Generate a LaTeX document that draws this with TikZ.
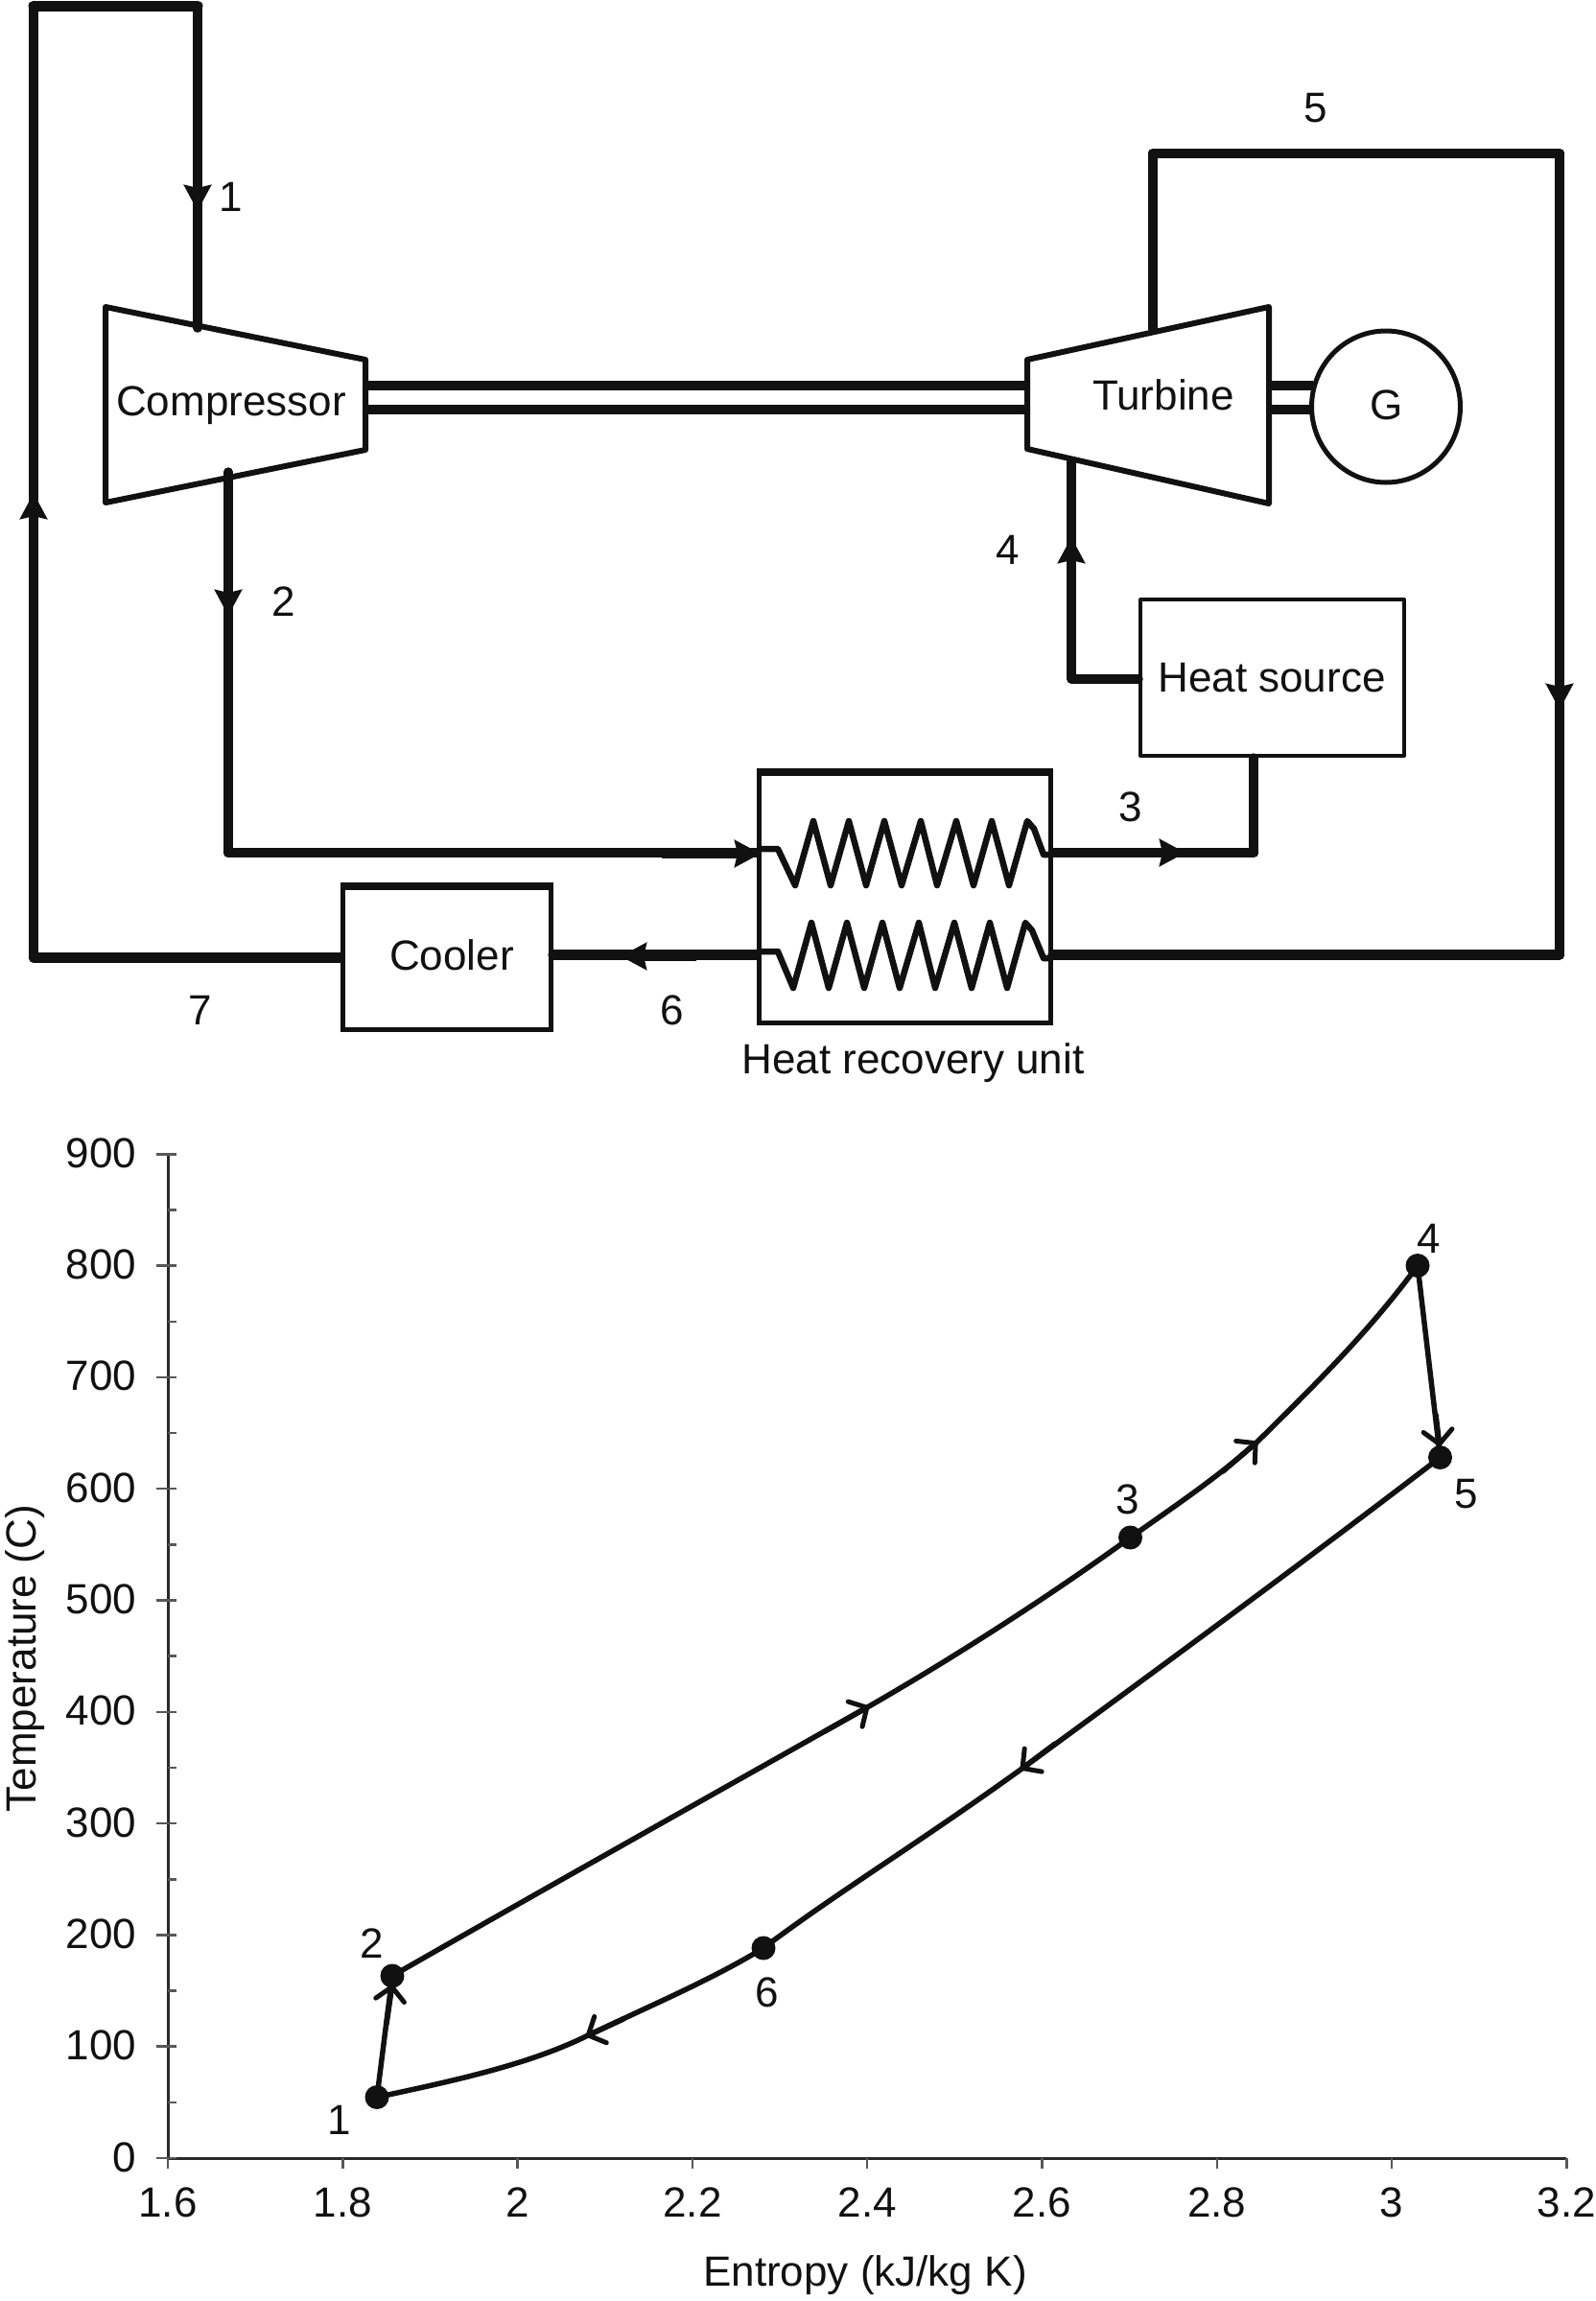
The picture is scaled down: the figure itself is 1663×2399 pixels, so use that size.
\documentclass[tikz,border=0pt]{standalone}
\usepackage{fontspec}
\setmainfont{Liberation Sans}
\usetikzlibrary{arrows.meta,shapes.geometric}
\definecolor{ink}{HTML}{111111}
\tikzset{
  txt/.style={inner sep=0pt,outer sep=0pt,anchor=base,text=ink,font=\fontsize{44}{50}\selectfont},
  pipe/.style={draw=ink,line width=9.5pt,line join=round,line cap=round},
  pipeh/.style={draw=ink,line width=10.5pt,line join=round,line cap=round},
  mach/.style={draw=ink,line width=6pt,line join=round,fill=white},
  shaft/.style={draw=ink,line width=9.5pt},
  coil/.style={draw=ink,line width=6.5pt,line join=round},
  thinbox/.style={draw=ink,line width=4pt,line join=round},
  flow/.style={draw=ink,line width=9.5pt,-{Stealth[length=27pt,width=28pt,inset=3pt]}},
  axis/.style={draw=ink!90,line width=3pt},
  tick/.style={draw=ink!70,line width=2.5pt},
  curve/.style={draw=ink,line width=5.5pt,line join=round,line cap=round},
  barb/.style={draw=ink,line width=5.5pt,line cap=round,-{Straight Barb[length=14pt,width=30pt,line width=5pt,round]}},
  dot/.style={circle,fill=ink,inner sep=0pt,minimum size=25pt},
}
\begin{document}
\begin{tikzpicture}[x=1pt,y=-1pt]
\useasboundingbox[fill=white] (0,0) rectangle (1663,2399);

% --- named points of the schematic
\coordinate (cTL) at (110,320); \coordinate (cTR) at (381,375);
\coordinate (cBR) at (381,469); \coordinate (cBL) at (110,524);
\coordinate (tTL) at (1071,375); \coordinate (tTR) at (1323,320);
\coordinate (tBR) at (1323,525); \coordinate (tBL) at (1071,468);
\coordinate (inC) at (206,342); \coordinate (outC) at (238,492);
\coordinate (inT) at (1117,481); \coordinate (outT) at (1202,343);
\coordinate (topL) at (35,6); \coordinate (topR) at (206,6);
\coordinate (botL) at (35,998.5);
\coordinate (c2) at (238,889); \coordinate (c3) at (1307,889);
\coordinate (c4) at (1117,708);
\coordinate (c5a) at (1202,160); \coordinate (c5b) at (1626,160);
\coordinate (c5c) at (1626,995.5);
\coordinate (a1s) at (206,170); \coordinate (a1e) at (206,220);
\coordinate (a7s) at (35,570); \coordinate (a7e) at (35,514);
\coordinate (a4s) at (1117,610); \coordinate (a4e) at (1117,560);
\coordinate (a5s) at (1626,690); \coordinate (a5e) at (1626,740);
\coordinate (a2s) at (238,590); \coordinate (a2e) at (238,642);
\coordinate (a2hs) at (690,890); \coordinate (a2he) at (793,890);
\coordinate (a3s) at (1150,889); \coordinate (a3e) at (1236,889);
\coordinate (a6s) at (726,997); \coordinate (a6e) at (647,997);

% --- shafts
\draw[shaft] (381,402) -- (1069,402);
\draw[shaft] (381,427) -- (1069,427);
\draw[shaft] (1323,402) -- (1369,402);
\draw[shaft] (1323,427) -- (1369,427);

% --- machines
\draw[mach] (cTL) -- (cTR) -- (cBR) -- (cBL) -- cycle;
\draw[mach] (tTL) -- (tTR) -- (tBR) -- (tBL) -- cycle;
\node[draw=ink,line width=5pt,ellipse,fill=white,minimum width=155pt,minimum height=158pt,inner sep=0pt] (gen) at (1445,424) {};
\node[thinbox,minimum width=275pt,minimum height=163pt,inner sep=0pt] (heat) at (1326.5,706.5) {};
\node[draw=ink,line width=5pt,minimum width=217pt,minimum height=148pt,inner sep=0pt] (cooler) at (465.5,999) {};
\node[draw=ink,line width=5pt,minimum width=304pt,minimum height=260pt,inner sep=0pt] (hrx) at (943,936) {};
\draw[draw=ink,line width=6pt] (cooler.north west) -- (cooler.north east);
\draw[draw=ink,line width=6pt] (hrx.north west) -- (hrx.north east);

% --- coils
\draw[coil] (791,885) -- (811,885) -- (829,923) -- (848,856) -- (866,923) -- (885,856) -- (903,923) -- (922,856) -- (940,923) -- (960,856) -- (977,923) -- (997,856) -- (1015,923) -- (1034,856) -- (1052,923) -- (1071,856) -- (1078,864) -- (1088,891) -- (1095,891);
\draw[coil] (791,992) -- (811,992) -- (827,1030) -- (846,962) -- (864,1030) -- (883,962) -- (901,1030) -- (920,962) -- (938,1030) -- (958,962) -- (975,1030) -- (995,962) -- (1013,1030) -- (1032,962) -- (1050,1030) -- (1069,962) -- (1076,970) -- (1088,999) -- (1095,999);

% --- pipes
\draw[pipe] (inC) -- (topR);
\draw[pipeh,line width=11pt] (topR) -- (topL);
\draw[pipe] (topL) -- (botL);
\draw[pipeh] (botL) -- (cooler.west |- botL);
\draw[pipe] (outC) -- (c2);
\draw[pipeh] (c2) -- (hrx.west |- c2);
\draw[pipeh] (hrx.east |- c3) -- (c3);
\draw[pipe] (c3) -- (heat.south -| c3);
\draw[pipe] (heat.west |- c4) -- (c4) -- (inT);
\draw[pipe] (outT) -- (c5a);
\draw[pipeh] (c5a) -- (c5b);
\draw[pipe] (c5b) -- (c5c);
\draw[pipeh] (c5c) -- (hrx.east |- c5c);
\draw[pipeh] (hrx.west |- c5c) -- (cooler.east |- c5c);

% --- arrowheads on the pipes
\draw[flow] (a1s) -- (a1e);
\draw[flow] (a7s) -- (a7e);
\draw[flow] (a4s) -- (a4e);
\draw[flow] (a5s) -- (a5e);
\draw[flow] (a2s) -- (a2e);
\draw[flow,line width=10.5pt] (a2hs) -- (a2he);
\draw[flow,line width=10.5pt] (a3s) -- (a3e);
\draw[flow,line width=10.5pt] (a6s) -- (a6e);

% --- schematic labels
\node[txt] (lc) at (241,433) {Compressor};
\node[txt] (lt) at (1213,427) {Turbine};
\node[txt] (lg) at (1446,437) {G};
\node[txt] (lh) at (1326,721) {Heat source};
\node[txt] (lco) at (471,1011) {Cooler};
\node[txt] (lr) at (952,1119) {Heat recovery unit};
\node[txt] (s1) at (241,220) {1};
\node[txt] (s2) at (296,642) {2};
\node[txt] (s3) at (1179,856) {3};
\node[txt] (s4) at (1051,588) {4};
\node[txt] (s5) at (1372,127) {5};
\node[txt] (s6) at (701,1068) {6};
\node[txt] (s7) at (209,1068) {7};

% --- chart axes
\draw[axis] (175,1204) -- (175,2250) -- (1633,2250);
\foreach \v in {0,100,...,900}{
  \pgfmathsetmacro{\yy}{2250-1.163*\v}
  \draw[tick] (163,\yy) -- (184,\yy);
  \node[txt,anchor=base east] (yl\v) at (142,\yy+14) {\v};
}
\foreach \v in {50,150,...,850}{
  \pgfmathsetmacro{\yy}{2250-1.163*\v}
  \draw[tick] (175,\yy) -- (184,\yy);
}
\foreach \i/\t in {0/1.6,1/1.8,2/2,3/2.2,4/2.4,5/2.6,6/2.8,7/3,8/3.2}{
  \pgfmathsetmacro{\xx}{175+182.3*\i}
  \draw[tick] (\xx,2250) -- (\xx,2261);
  \node[txt] (xl\i) at (\xx,2311) {\t};
}
\node[txt] (xt) at (902,2383) {Entropy (kJ/kg K)};
\node[txt,rotate=90] (yt) at (37,1729) {Temperature (C)};

% --- state points
\node[dot] (p1) at (393,2186.5) {};
\node[dot] (p2) at (409,2060) {};
\node[dot] (p3) at (1178.5,1603) {};
\node[dot] (p4) at (1478,1319.5) {};
\node[dot] (p5) at (1501.5,1519.5) {};
\node[dot] (p6) at (796,2031) {};

% --- flow marks' coordinates on the curves
\coordinate (b1s) at (403,2110); \coordinate (b1e) at (409,2069);
\coordinate (b2s) at (860,1805); \coordinate (b2e) at (906,1779);
\coordinate (b3s) at (1275,1534); \coordinate (b3e) at (1311,1503);
\coordinate (b4s) at (1497,1475); \coordinate (b4e) at (1501,1508);
\coordinate (b5s) at (1100,1818); \coordinate (b5e) at (1064,1845);
\coordinate (b6s) at (650,2105); \coordinate (b6e) at (611,2123);

% --- process curves
\draw[curve] (p2.center) .. controls (540,1985) and (700,1895) .. (b2e) .. controls (1000,1725) and (1100,1660) .. (p3.center);
\draw[curve] (p3.center) .. controls (1225,1570) and (1270,1540) .. (b3e) .. controls (1375,1440) and (1430,1385) .. (p4.center);
\draw[curve] (p4.center) -- (p5.center);
\draw[curve] (p5.center) .. controls (1360,1628) and (1210,1738) .. (b5e) .. controls (960,1920) and (870,1975) .. (p6.center);
\draw[curve] (p6.center) .. controls (740,2065) and (680,2090) .. (b6e) .. controls (550,2153) and (470,2170) .. (p1.center);
\draw[curve] (p1.center) -- (p2.center);

\draw[barb] (b1s) -- (b1e);
\draw[barb] (b2s) -- (b2e);
\draw[barb] (b3s) -- (b3e);
\draw[barb] (b4s) -- (b4e);
\draw[barb] (b5s) -- (b5e);
\draw[barb] (b6s) -- (b6e);

% --- chart labels
\node[txt] (n1) at (354,2225) {1};
\node[txt] (n2) at (388,2041) {2};
\node[txt] (n3) at (1176,1578) {3};
\node[txt] (n4) at (1490,1306) {4};
\node[txt] (n5) at (1529,1572) {5};
\node[txt] (n6) at (800,2092) {6};
\end{tikzpicture}
\end{document}
